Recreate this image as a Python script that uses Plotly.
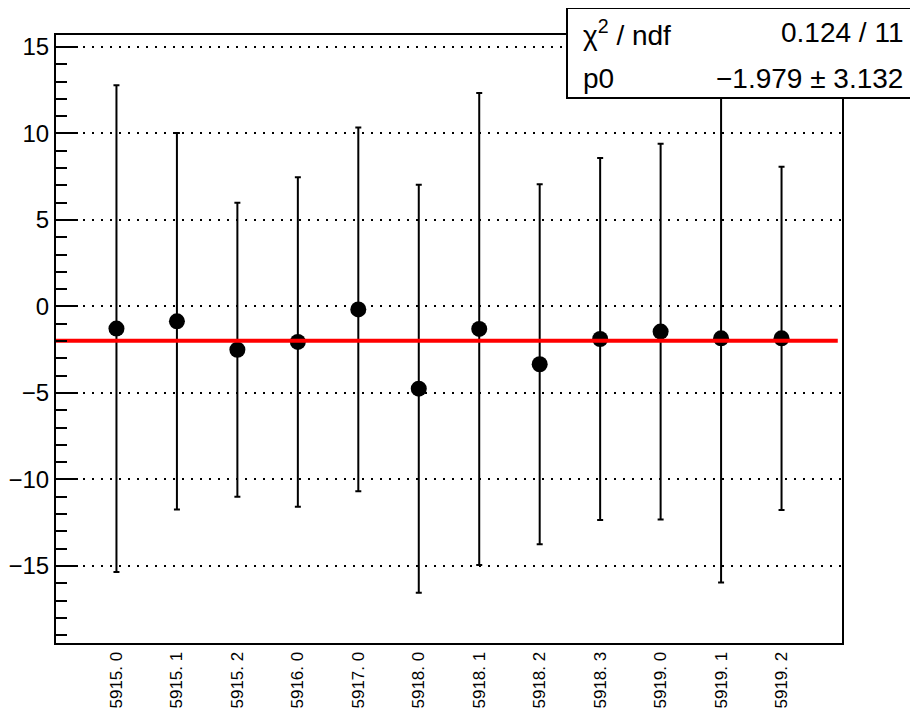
import plotly.graph_objects as go

# ---- data ----
run_labels = ["5915. 0", "5915. 1", "5915. 2", "5916. 0", "5917. 0", "5918. 0",
              "5918. 1", "5918. 2", "5918. 3", "5919. 0", "5919. 1", "5919. 2"]
x_pos = [1, 2, 3, 4, 5, 6, 7, 8, 9, 10, 11, 12]
values = [-1.28, -0.86, -2.50, -2.05, -0.17, -4.75, -1.30, -3.34, -1.88, -1.45, -1.84, -1.84]
errors = [14.07, 10.88, 8.50, 9.52, 10.51, 11.79, 13.64, 10.40, 10.46, 10.86, 14.12, 9.92]

fit_p0 = -1.979
fit_p0_err = 3.132
fit_chi2 = 0.124
fit_ndf = 11
fit_x_range = [0.0, 12.93]

x_range = [0, 13]
y_range = [-19.45, 15.69]

FONT = "Liberation Sans, Arial, sans-serif"


def fmt(v):
    return f"{v:.3f}".replace("-", "\u2212")


fig = go.Figure()

fig.add_trace(go.Scatter(
    x=x_pos, y=values, mode="markers",
    marker=dict(color="black", size=16, symbol="circle"),
    error_y=dict(type="data", array=errors, visible=True,
                 color="black", thickness=2, width=3),
    showlegend=False, hoverinfo="skip",
))

fig.add_trace(go.Scatter(
    x=fit_x_range, y=[fit_p0, fit_p0], mode="lines",
    line=dict(color="#ff0000", width=4),
    showlegend=False, hoverinfo="skip",
))

# page offset (body margin) is 8px
OFF = 8
W, H = 910, 709
L, R, T, B = 56 - OFF, 76, 35 - OFF, 74
pw, ph = W - L - R, H - T - B


def px_to_paper_x(px):
    return (px - OFF - L) / pw


def px_to_paper_y(py):
    return (H - B - (py - OFF)) / ph


fig.update_layout(
    width=W, height=H,
    margin=dict(l=L, r=R, t=T, b=B, pad=0, autoexpand=False),
    paper_bgcolor="white", plot_bgcolor="white",
    font=dict(family=FONT, color="black"),
    xaxis=dict(
        range=x_range, tickmode="array", tickvals=x_pos, ticktext=run_labels,
        tickangle=-90, tickfont=dict(size=17, family=FONT, color="black"),
        showgrid=False, zeroline=False, ticks="", automargin=False,
        showline=True, linecolor="black", linewidth=2, mirror=True,
    ),
    yaxis=dict(
        range=y_range, tickmode="linear", tick0=0, dtick=5,
        tickfont=dict(size=24, family=FONT, color="black"),
        ticks="inside", ticklen=22, tickwidth=2, tickcolor="black",
        minor=dict(ticks="inside", ticklen=11, tickwidth=2, tickcolor="black",
                   dtick=1, tick0=0, showgrid=False),
        showgrid=True, gridcolor="black", gridwidth=2, griddash="2px,7px",
        zeroline=False, automargin=False,
        showline=True, linecolor="black", linewidth=2, mirror=True,
    ),
)

# stats box
bx0, bx1, by0, by1 = 567, 913, 8, 98
fig.add_shape(type="rect", xref="paper", yref="paper",
              x0=px_to_paper_x(bx0), x1=px_to_paper_x(bx1),
              y0=px_to_paper_y(by1), y1=px_to_paper_y(by0),
              fillcolor="white", line=dict(color="black", width=2), layer="above")

stat_font = dict(size=28, family=FONT, color="black")
rows = [
    ("\u03c7<sup>2</sup> / ndf", f"{fit_chi2:.3f} / {fit_ndf}", 33),
    ("p0", f"{fmt(fit_p0)} \u00b1 {fit_p0_err:.3f}", 78),
]
for left, right, yc in rows:
    fig.add_annotation(xref="paper", yref="paper", x=px_to_paper_x(581), y=px_to_paper_y(yc),
                       text=left, showarrow=False, xanchor="left", yanchor="middle", font=stat_font)
    fig.add_annotation(xref="paper", yref="paper", x=px_to_paper_x(905), y=px_to_paper_y(yc),
                       text=right, showarrow=False, xanchor="right", yanchor="middle", font=stat_font)

fig.write_html("out.html")
